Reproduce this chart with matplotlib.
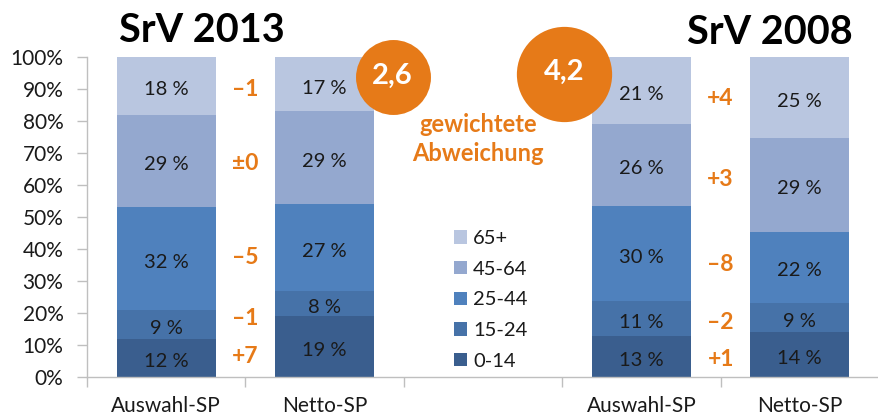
import matplotlib
matplotlib.use("Agg")
import matplotlib.pyplot as plt
import numpy as np
from matplotlib.patches import Patch

plt.rcParams['font.family'] = ['Lato', 'DejaVu Sans']

# ---- data ----
groups = ["Auswahl-SP", "Netto-SP", "", "Auswahl-SP", "Netto-SP"]
age_classes = ["0-14", "15-24", "25-44", "45-64", "65+"]
srv2013_auswahl = [12, 9, 32, 29, 18]
srv2013_netto = [19, 8, 27, 29, 17]
srv2008_auswahl = [13, 11, 30, 26, 21]
srv2008_netto = [14, 9, 22, 29, 25]
weighted_dev = [2.6, 4.2]
titles = ["SrV 2013", "SrV 2008"]
colors = ["#3A5E8E", "#4672A8", "#4F81BD", "#94A8CF", "#B9C6E0"]
orange = "#E67A18"

bars = {0: srv2013_auswahl, 1: srv2013_netto, 3: srv2008_auswahl, 4: srv2008_netto}

W, H = 879, 419
fig = plt.figure(figsize=(W / 100, H / 100), dpi=100)
L, R, B, T = 87, 879, 377, 57
ax = fig.add_axes([L / W, 1 - B / H, (R - L) / W, (B - T) / H])

bw = 0.625
mids = {}
for x, vals in bars.items():
    v = np.array(vals, float)
    frac = v / v.sum()
    bottom = 0.0
    m = []
    for i, f in enumerate(frac):
        ax.bar(x, f, bw, bottom=bottom, color=colors[i], linewidth=0, zorder=2)
        ax.text(x, bottom + f / 2 - 0.012, f"{vals[i]} %", ha='center', va='center',
                fontsize=14.5, color='#1a1a1a', zorder=3)
        m.append(bottom + f / 2)
        bottom += f
    mids[x] = m

# differences (Netto - Auswahl)
def fmt(d):
    if d > 0:
        return f"+{d}"
    if d < 0:
        return f"\u2013{-d}"
    return "\u00b10"

for a, n in [(0, 1), (3, 4)]:
    xm = (a + n) / 2
    for i in range(5):
        d = bars[n][i] - bars[a][i]
        y = (mids[a][i] + mids[n][i]) / 2 - 0.014
        ax.text(xm, y, fmt(d), ha='center', va='center', fontsize=16.5,
                fontweight='bold', color=orange, zorder=3)

ax.set_xlim(-0.5, 4.45)
ax.set_ylim(0, 1)
ax.set_yticks(np.arange(0, 1.01, 0.1))
ax.set_yticklabels([f"{int(round(t * 100))}%" for t in np.arange(0, 1.01, 0.1)],
                   fontsize=15, color='#1a1a1a')
ax.set_xticks([0, 1, 3, 4])
ax.set_xticklabels([groups[i] for i in [0, 1, 3, 4]], fontsize=15, color='#1a1a1a')
ax.set_xticks(np.arange(-0.5, 4.6, 1.0), minor=True)
ax.tick_params(axis='x', which='major', length=0, pad=14)
ax.tick_params(axis='x', which='minor', length=7, color='#BFBFBF', width=1)
ax.tick_params(axis='y', length=7, color='#BFBFBF', width=1, pad=10)
for s in ['top', 'right']:
    ax.spines[s].set_visible(False)
for s in ['left', 'bottom']:
    ax.spines[s].set_color('#BFBFBF')
    ax.spines[s].set_linewidth(1)
ax.spines['bottom'].set_zorder(4)

# titles
fig.text(202 / W, 1 - 30 / H, titles[0], ha='center', va='center', fontsize=28.5,
         fontweight='bold', color='black')
fig.text(770 / W, 1 - 32 / H, titles[1], ha='center', va='center', fontsize=28.5,
         fontweight='bold', color='black')

# weighted deviation circles (area proportional to value)
k = 1120
circ_pos = [(1.43, 0.937), (2.51, 0.948)]
for (cx, cy), val in zip(circ_pos, weighted_dev):
    ax.scatter([cx], [cy], s=k * val, color=orange, zorder=5, clip_on=False, linewidths=0)
    ax.text(cx, cy + 0.005, f"{val:.1f}".replace('.', ','), ha='center', va='center',
            fontsize=21, fontweight='bold', color='white', zorder=6)

fig.text(478 / W, 1 - 139 / H, "gewichtete\nAbweichung", ha='center', va='center',
         fontsize=17, fontweight='bold', color=orange, linespacing=1.3)

# legend
handles = [Patch(facecolor=colors[i], edgecolor='none', label=age_classes[i]) for i in range(5)][::-1]
leg = fig.legend(handles=handles, loc='upper left', bbox_to_anchor=(444 / W, 1 - 220 / H),
                 frameon=False, fontsize=14.5, handlelength=0.65, handleheight=0.65,
                 handletextpad=0.3, labelspacing=0.68, borderpad=0, labelcolor='#1a1a1a')

fig.savefig("out.png", dpi=100)
